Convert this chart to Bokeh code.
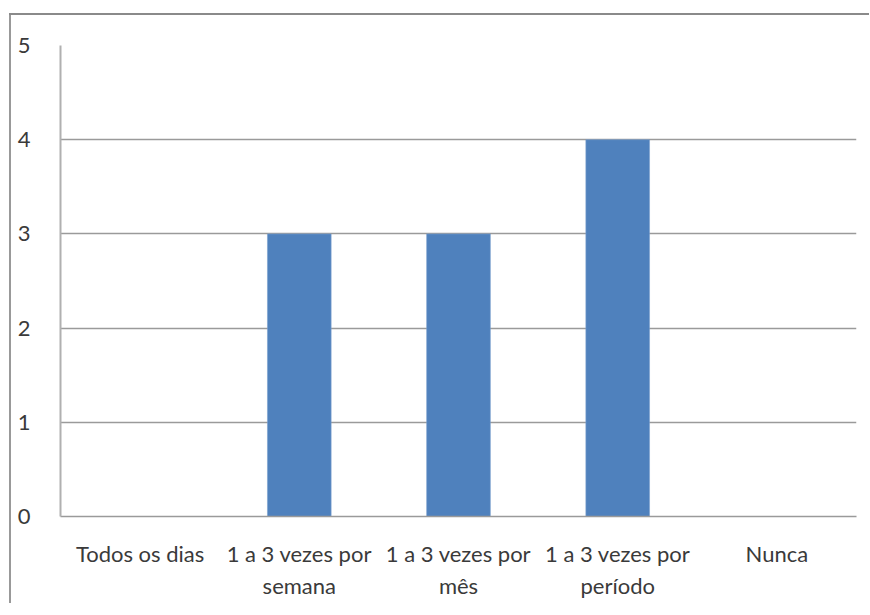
from bokeh.plotting import figure
from bokeh.models import FactorRange, Range1d, FixedTicker, Spacer
from bokeh.layouts import column, row
from bokeh.embed import file_html
from bokeh.resources import INLINE

categories = ["Todos os dias", "1 a 3 vezes por\nsemana", "1 a 3 vezes por\nmês",
              "1 a 3 vezes por\nperíodo", "Nunca"]
values = [0, 3, 3, 4, 0]
y_ticks = [0, 1, 2, 3, 4, 5]

FONT = "Lato"
TEXT = "#3a3a3a"

p = figure(x_range=FactorRange(*categories, range_padding=0),
           y_range=Range1d(0, 5),
           frame_width=796, frame_height=471,
           min_border_left=49, min_border_top=30, min_border_right=4, min_border_bottom=80,
           output_backend="svg", toolbar_location=None)
p.border_fill_alpha = 0
p.background_fill_color = "white"

p.vbar(x=categories, top=values, width=0.4, fill_color="#4F81BD",
       line_color="#7aa0cf", line_width=0.6)

p.outline_line_color = None
p.xgrid.grid_line_color = None
p.ygrid.grid_line_color = "#9a9a9a"
p.ygrid.grid_line_width = 1.5
p.yaxis.ticker = FixedTicker(ticks=y_ticks)

for ax in (p.xaxis, p.yaxis):
    ax.major_tick_line_color = None
    ax.minor_tick_line_color = None
    ax.axis_line_color = "#9a9a9a"
    ax.axis_line_width = 1.5
    ax.major_label_text_font = FONT
    ax.major_label_text_font_size = "22px"
    ax.major_label_text_color = TEXT
    ax.major_label_text_font_style = "normal"

p.yaxis.major_label_standoff = 24
p.xaxis.major_label_standoff = 17
p.yaxis.axis_line_color = "#b0b0b0"
p.yaxis.axis_line_width = 2

top_gap = Spacer(width=860, height=13)
left_gap = Spacer(width=9, height=590)
top_edge = Spacer(width=860, height=2, styles={"background-color": "#8a8a8a"})
left_edge = Spacer(width=2, height=588, styles={"background-color": "#999999"})
chart = column(top_edge, row(left_edge, p))
layout = column(top_gap, row(left_gap, chart))

open("out.html", "w").write(file_html(layout, INLINE))
